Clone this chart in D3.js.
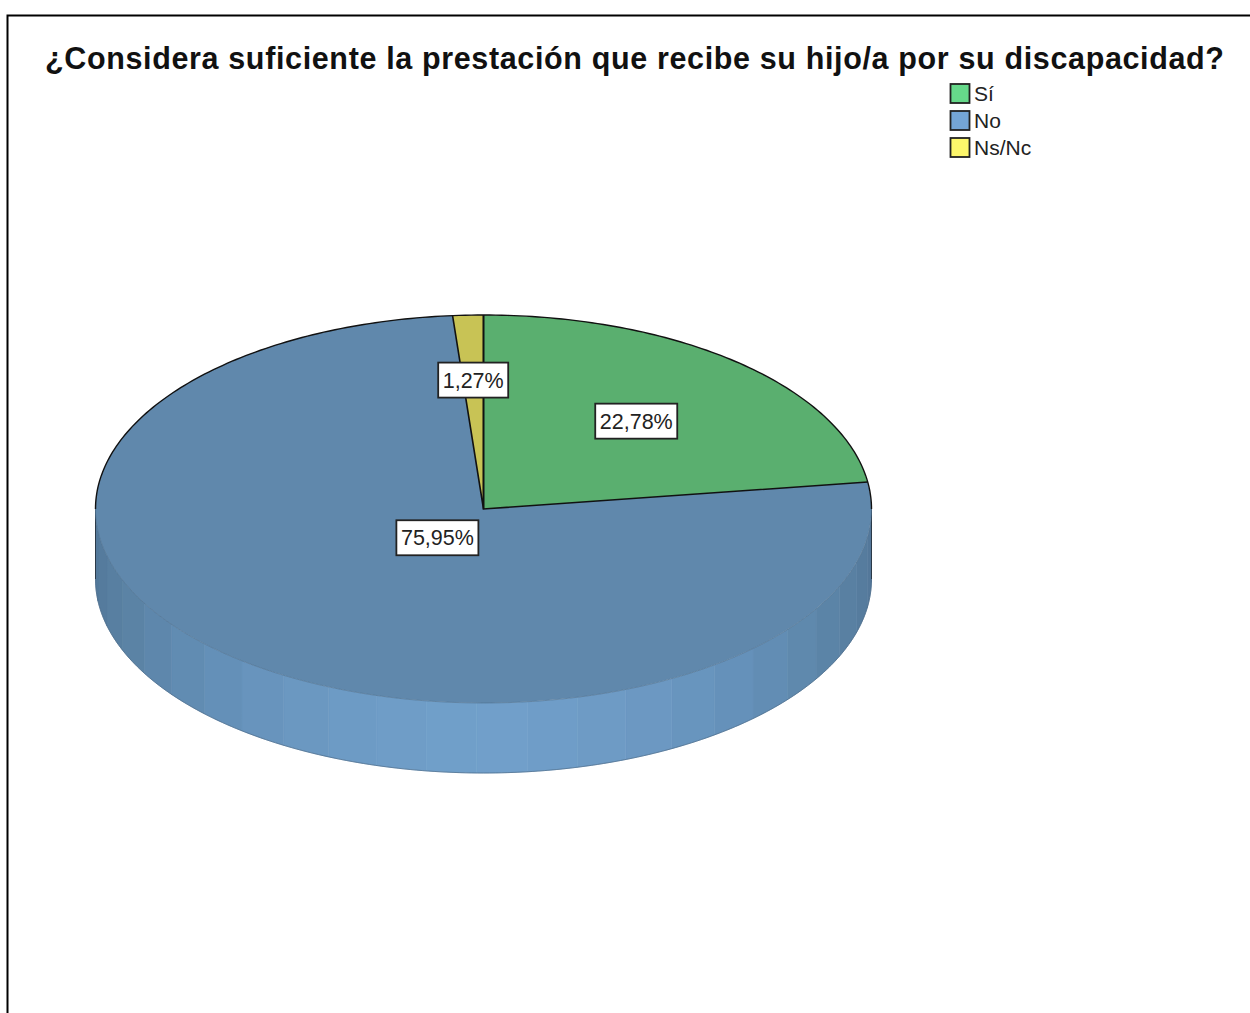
<!DOCTYPE html>
<html lang="es"><head><meta charset="utf-8">
<script src="https://cdn.jsdelivr.net/npm/d3@7/dist/d3.min.js"></script>
<style>html,body{margin:0;padding:0;background:#fff;overflow:hidden}svg{display:block}text{font-family:"Liberation Sans",Arial,sans-serif}</style>
</head><body><svg id="c" width="1250" height="1013"></svg>
<script>
const titleText = "¿Considera suficiente la prestación que recibe su hijo/a por su discapacidad?";
const categories = ["Sí", "No", "Ns/Nc"];
const percentages = [22.78, 75.95, 1.27];
const percentLabels = ["22,78%", "75,95%", "1,27%"];
const topColors = ["#5aaf6f", "#6088ac", "#c8c355"];
const legendColors = ["#66d98a", "#74a5d6", "#fdf76b"];

const cx = 483.5, cy = 509, rx = 388, ry = 194, depth = 70;
const labelFractions = [0.6, 0.19, 0.665];
const facetStep = 7.5, facetStart = 91;

const svg = d3.select("#c");
svg.append("rect").attr("x",7.5).attr("y",15.5).attr("width",1400).attr("height",1200)
  .attr("fill","#fff").attr("stroke","#000").attr("stroke-width",2);

svg.append("text").attr("x",45).attr("y",69).attr("font-size",30.5).attr("font-weight",700)
  .attr("fill","#111").attr("textLength",1179).attr("lengthAdjust","spacing").text(titleText);

const legendY = d3.scalePoint().domain(categories).range([93,147]);
const lg = svg.append("g").selectAll("g").data(categories).join("g")
  .attr("transform",d=>`translate(950,${legendY(d)})`);
lg.append("rect").attr("x",0.5).attr("y",-9).attr("width",19).attr("height",19)
  .attr("fill",(d,i)=>legendColors[i]).attr("stroke","#222").attr("stroke-width",1.8);
lg.append("text").attr("x",24).attr("y",8).attr("font-size",21).attr("fill","#222").text(d=>d);

const pieData = d3.pie().sort(null).value(d=>d)(percentages);
const px = a => cx + rx*Math.sin(a), py = a => cy - ry*Math.cos(a);
const rad = d => d*Math.PI/180;

const shade = d3.scaleLinear().domain([0,22,43,66,90])
  .range(["#71a0cb","#6d9ac4","#6490b8","#5a82a4","#527698"]);
const facetAngles = d3.range(facetStart, 270, facetStep).concat([270]);
const wall = svg.append("g");
const line = d3.line();
d3.pairs([90].concat(facetAngles)).forEach(([a,b])=>{
  const steps = d3.range(0,1.0001,0.1).map(t=>rad(a+(b-a)*t));
  const pts = steps.map(t=>[px(t),py(t)]).concat(steps.slice().reverse().map(t=>[px(t),py(t)+depth]));
  const c = shade(Math.abs((a+b)/2-180));
  wall.append("path").attr("d",line(pts)+"Z").attr("fill",c).attr("stroke",c).attr("stroke-width",0.6);
});
const edgePts = (a0,a1,off)=>d3.range(0,1.0001,0.005).map(t=>{const a=rad(a0+(a1-a0)*t);return [px(a),py(a)+off];});
svg.append("path").attr("d",line(edgePts(90,270,depth))).attr("fill","none").attr("stroke","#4a6a88").attr("stroke-width",0.7);
svg.append("path").attr("d",line([[cx-rx,cy],[cx-rx,cy+depth]])).attr("stroke","#2b3a48").attr("stroke-width",1);
svg.append("path").attr("d",line([[cx+rx,cy],[cx+rx,cy+depth]])).attr("stroke","#2b3a48").attr("stroke-width",1);

const arc = d3.arc().innerRadius(0).outerRadius(1);
const topFace = svg.append("g").attr("transform",`translate(${cx},${cy}) scale(${rx},${ry})`);
topFace.selectAll("path").data(pieData).join("path").attr("d",arc)
  .attr("fill",(d,i)=>topColors[i]).attr("stroke","none");

const outline = svg.append("g").attr("fill","none");
outline.append("path").attr("d",line(edgePts(-90,90,0))).attr("stroke","#111").attr("stroke-width",1.4);
outline.append("path").attr("d",line(edgePts(90,270,0))).attr("stroke","#4d6f8d").attr("stroke-width",0.6);
pieData.filter((d,i)=>i!==1).forEach(d=>{
  outline.append("path").attr("d",line([[px(d.startAngle),py(d.startAngle)],[cx,cy],[px(d.endAngle),py(d.endAngle)]]))
    .attr("stroke","#111").attr("stroke-width",1.6);
});

const lbl = svg.append("g").selectAll("g").data(pieData).join("g")
  .attr("transform",(d,i)=>{const m=(d.startAngle+d.endAngle)/2;
    return `translate(${cx+labelFractions[i]*rx*Math.sin(m)},${cy-labelFractions[i]*ry*Math.cos(m)})`;});
lbl.append("rect").attr("x",(d,i)=>i===2?-35:-41).attr("y",-17.5).attr("width",(d,i)=>i===2?70:82).attr("height",35)
  .attr("fill","#fff").attr("stroke","#222").attr("stroke-width",1.8);
lbl.append("text").attr("text-anchor","middle").attr("y",7.5).attr("font-size",21.5).attr("fill","#222")
  .text((d,i)=>percentLabels[i]);
</script></body></html>
